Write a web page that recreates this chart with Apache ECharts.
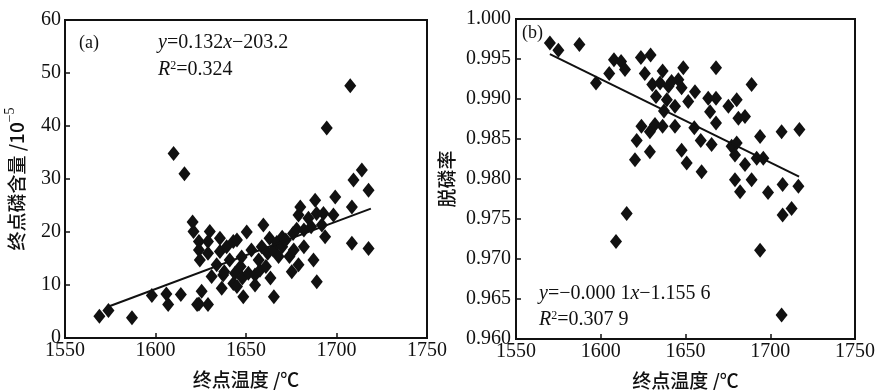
<!DOCTYPE html>
<html>
<head>
<meta charset="utf-8">
<script src="https://cdn.jsdelivr.net/npm/echarts@6/dist/echarts.min.js"></script>
<style>
  html, body { margin: 0; padding: 0; background: #fff; }
  #chart { width: 878px; height: 390px; }
</style>
</head>
<body>
<div id="chart"></div>
<script>
// 溫度軸刻度
const tempTicks = [1550, 1600, 1650, 1700, 1750];

// (a) 終點磷含量 vs 終點溫度
const tempA = [1569, 1574, 1587, 1598, 1606, 1607, 1614, 1610, 1616, 1620.5, 1621, 1624, 1624, 1624.5, 1624, 1623, 1625.5, 1629,
  1630, 1629, 1629, 1631, 1633.8, 1635.6, 1635.6, 1636.6, 1637.4, 1639.3, 1638, 1641, 1643, 1643, 1643.9, 1645, 1645, 1647.6,
  1647, 1648, 1648.5, 1650.4, 1651.3, 1653, 1655, 1655, 1657, 1657.7, 1658.7, 1659.6, 1661, 1662, 1663, 1663.5, 1665, 1665.4,
  1667, 1668, 1670, 1670, 1672, 1674, 1675.3, 1676, 1676.4, 1678, 1679, 1679, 1680, 1682, 1682, 1684.5, 1686, 1687.3, 1688.2,
  1689, 1689.1, 1691.9, 1692.8, 1693.7, 1694.6, 1698.3, 1699.3, 1707.6, 1709.4, 1708.5, 1708.5, 1714, 1717.7, 1717.7];
const phosA = [4.1, 5.2, 3.8, 8.0, 8.3, 6.3, 8.2, 34.8, 31.0, 21.9, 20.1, 18.2, 16.6, 14.7, 6.4, 6.3, 8.8, 6.3,
  20.1, 18.2, 16.0, 11.6, 13.8, 18.8, 16.3, 9.4, 11.9, 17.2, 12.5, 14.7, 18.2, 10.3, 12.2, 9.7, 18.5, 15.3,
  13.5, 11.3, 7.8, 20.0, 12.2, 16.6, 10.0, 11.9, 14.7, 12.8, 17.2, 21.3, 13.5, 16.0, 18.8, 11.3, 16.6, 7.8,
  18.0, 15.4, 17.2, 19.0, 18.5, 15.4, 12.5, 19.7, 16.6, 20.5, 13.8, 23.2, 24.7, 17.2, 20.4, 22.6, 21.0, 14.7, 26.0,
  23.5, 10.6, 21.3, 23.5, 19.1, 39.6, 23.2, 26.6, 47.6, 29.8, 24.7, 17.9, 31.7, 27.9, 16.9];
const fitA = [[1573, 5.8], [1719, 24.4]];
const phosTicks = [0, 10, 20, 30, 40, 50, 60];

// (b) 脫磷率 vs 終點溫度
const tempB = [1570, 1575, 1587.4, 1597.2, 1605, 1607.8, 1612, 1614.3, 1609, 1615.3, 1620.2, 1621.2, 1623.7, 1624, 1626, 1629,
  1629, 1629.4, 1630.4, 1632, 1632.6, 1635, 1636.5, 1636.5, 1637.3, 1639, 1640, 1641.8, 1643.8, 1643.8, 1645.8, 1647.7, 1647.7,
  1648.7, 1650.7, 1651.6, 1655.6, 1655.2, 1659, 1659.5, 1663.4, 1664.5, 1665.4, 1668, 1668, 1668, 1675.3, 1677.2, 1680.2,
  1680.2, 1681.2, 1679.2, 1679.2, 1682.2, 1685.1, 1685.1, 1689, 1689, 1692, 1694, 1695.9, 1694, 1698.7, 1706.7, 1707.3,
  1707.3, 1706.7, 1712.6, 1717.2, 1716.6];
const rateB = [0.9970, 0.9961, 0.9968, 0.9920, 0.9932, 0.9949, 0.9947, 0.9937, 0.9722, 0.9757, 0.9824, 0.9848, 0.9952, 0.9866, 0.9932, 0.9834,
  0.9859, 0.9955, 0.9918, 0.9868, 0.9903, 0.9920, 0.9935, 0.9866, 0.9885, 0.9899, 0.9916, 0.9922, 0.9891, 0.9866, 0.9924, 0.9914, 0.9836,
  0.9939, 0.9820, 0.9897, 0.9909, 0.9864, 0.9848, 0.9809, 0.9901, 0.9884, 0.9843, 0.9939, 0.9901, 0.9870, 0.9891, 0.9841, 0.9899,
  0.9845, 0.9876, 0.9830, 0.9799, 0.9784, 0.9878, 0.9818, 0.9918, 0.9799, 0.9826, 0.9853, 0.9826, 0.9711, 0.9783, 0.9859, 0.9793,
  0.9755, 0.9630, 0.9763, 0.9862, 0.9791];
const fitB = [[1570, 0.9956], [1717, 0.9803]];
const rateTicks = [0.960, 0.965, 0.970, 0.975, 0.980, 0.985, 0.990, 0.995, 1.000];

const serif = '"Liberation Serif", "DejaVu Serif", serif';
const cjk = '"Noto Sans CJK SC", sans-serif';
const ink = '#111';

function xAxisFor(gridIndex) {
    return {
        gridIndex, type: 'value', min: tempTicks[0], max: tempTicks[tempTicks.length - 1], interval: 50,
        name: '终点温度 /℃', nameLocation: 'middle', nameGap: 32,
        nameTextStyle: { fontFamily: cjk, fontSize: 19, color: ink, fontWeight: 500 },
        axisLine: { lineStyle: { color: ink, width: 2 } },
        axisTick: { inside: true, length: 5, lineStyle: { color: ink, width: 1.5 } },
        axisLabel: { fontFamily: serif, fontSize: 20, color: ink, margin: 3, formatter: v => String(v) },
        splitLine: { show: false }
    };
}

const chart = echarts.init(document.getElementById('chart'));
chart.setOption({
    animation: false,
    grid: [
        { left: 65, top: 20, width: 362, height: 318, show: true, borderColor: ink, borderWidth: 2, outerBoundsMode: 'none', containLabel: false },
        { left: 516, top: 19, width: 339, height: 320, show: true, borderColor: ink, borderWidth: 2, outerBoundsMode: 'none', containLabel: false }
    ],
    xAxis: [xAxisFor(0), xAxisFor(1)],
    yAxis: [
        {
            gridIndex: 0, type: 'value', min: phosTicks[0], max: phosTicks[phosTicks.length - 1], interval: 10,
            name: '终点磷含量 /10{sup|−5}', nameLocation: 'middle', nameGap: 34,
            nameTextStyle: { fontFamily: cjk, fontSize: 19, color: ink, fontWeight: 500,
                rich: { sup: { fontFamily: serif, fontSize: 14, color: ink, verticalAlign: 'top', lineHeight: 28 } } },
            axisLine: { lineStyle: { color: ink, width: 2 } },
            axisTick: { inside: true, length: 5, lineStyle: { color: ink, width: 1.5 } },
            axisLabel: { fontFamily: serif, fontSize: 20, color: ink, margin: 4 },
            splitLine: { show: false }
        },
        {
            gridIndex: 1, type: 'value', min: rateTicks[0], max: rateTicks[rateTicks.length - 1], interval: 0.005,
            name: '脱磷率', nameLocation: 'middle', nameGap: 60,
            nameTextStyle: { fontFamily: cjk, fontSize: 19, color: ink, fontWeight: 500 },
            axisLine: { lineStyle: { color: ink, width: 2 } },
            axisTick: { inside: true, length: 5, lineStyle: { color: ink, width: 1.5 } },
            axisLabel: { fontFamily: serif, fontSize: 20, color: ink, margin: 5, formatter: v => v.toFixed(3) },
            splitLine: { show: false }
        }
    ],
    series: [
        {
            type: 'scatter', xAxisIndex: 0, yAxisIndex: 0, symbol: 'diamond', symbolSize: [12, 15],
            itemStyle: { color: ink, opacity: 1 }, data: tempA.map((t, i) => [t, phosA[i]])
        },
        {
            type: 'line', xAxisIndex: 0, yAxisIndex: 0, data: fitA, symbol: 'none',
            lineStyle: { color: ink, width: 2 }, z: 3
        },
        {
            type: 'scatter', xAxisIndex: 1, yAxisIndex: 1, symbol: 'diamond', symbolSize: [12, 15],
            itemStyle: { color: ink, opacity: 1 }, data: tempB.map((t, i) => [t, rateB[i]])
        },
        {
            type: 'line', xAxisIndex: 1, yAxisIndex: 1, data: fitB, symbol: 'none',
            lineStyle: { color: ink, width: 2 }, z: 3
        }
    ],
    graphic: [
        { type: 'text', left: 79, top: 34, style: { text: '(a)', font: '18px ' + serif, fill: ink } },
        { type: 'text', left: 158, top: 33, style: {
            text: '{i|y}=0.132{i|x}−203.2', font: '20px ' + serif, fill: ink,
            rich: { i: { fontStyle: 'italic', fontFamily: serif, fontSize: 20 } } } },
        { type: 'text', left: 158, top: 60, style: {
            text: '{i|R}{s|2}=0.324', font: '20px ' + serif, fill: ink,
            rich: { i: { fontStyle: 'italic', fontFamily: serif, fontSize: 20 },
                    s: { fontFamily: serif, fontSize: 12, verticalAlign: 'top' } } } },
        { type: 'text', left: 522, top: 24, style: { text: '(b)', font: '18px ' + serif, fill: ink } },
        { type: 'text', left: 539, top: 284, style: {
            text: '{i|y}=−0.000 1{i|x}−1.155 6', font: '20px ' + serif, fill: ink,
            rich: { i: { fontStyle: 'italic', fontFamily: serif, fontSize: 20 } } } },
        { type: 'text', left: 539, top: 310, style: {
            text: '{i|R}{s|2}=0.307 9', font: '20px ' + serif, fill: ink,
            rich: { i: { fontStyle: 'italic', fontFamily: serif, fontSize: 20 },
                    s: { fontFamily: serif, fontSize: 12, verticalAlign: 'top' } } } }
    ]
});
</script>
</body>
</html>
